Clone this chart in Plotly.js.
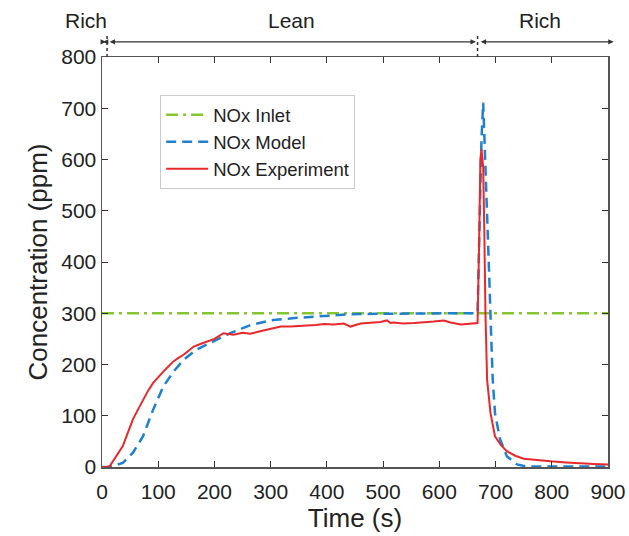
<!DOCTYPE html>
<html>
<head>
<meta charset="utf-8">
<script src="https://cdn.plot.ly/plotly-3.0.1.min.js"></script>
<style>html,body{margin:0;padding:0;background:#fff;}#chart{width:629px;height:536px;}</style>
</head>
<body>
<div id="chart"></div>
<script>
// ---- data ----
var inletTime = [0, 900];
var inletNOx = [300, 300];

var modelTime = [0, 10, 20, 37, 55, 73, 91, 109, 127, 145, 168, 198, 228, 264, 305, 347, 395, 442, 500, 560, 620, 668, 672, 675, 678, 680, 683, 689, 692, 695, 699, 708, 720, 738, 755, 800, 850, 900];
var modelNOx = [0, 0, 2, 8, 28, 60, 112, 157, 186, 209, 229, 245, 261, 277, 287, 291, 295, 298, 299, 300, 300, 300, 480, 640, 711, 640, 559, 364, 262, 170, 105, 54, 21, 5, 1, 1, 1, 1];

var expTime = [0, 10, 14, 25, 37, 46, 55, 64, 73, 82, 91, 100, 109, 118, 127, 136, 145, 154, 163, 175, 186, 200, 216, 234, 250, 264, 285, 305, 318, 335, 353, 365, 380, 395, 412, 430, 442, 460, 480, 495, 507, 513, 519, 535, 555, 575, 590, 608, 620, 638, 655, 668, 671, 673, 675, 678, 680, 682, 685, 691, 699, 710, 720, 735, 750, 775, 798, 825, 851, 875, 900];
var expNOx = [0, 0, 2, 20, 41, 67, 93, 112, 131, 149, 164, 176, 186, 196, 206, 213, 219, 227, 235, 240, 245, 250, 261, 258, 262, 260, 266, 271, 274, 274, 275, 275, 277, 279, 278, 280, 274, 280, 281, 283, 286, 281, 282, 280, 281, 282, 284, 286, 282, 278, 280, 281, 450, 600, 620, 585, 461, 300, 170, 105, 60, 42, 31, 22, 16, 13, 11, 9, 7, 6, 5];

var xTicks = [0, 100, 200, 300, 400, 500, 600, 700, 800, 900];
var yTicks = [0, 100, 200, 300, 400, 500, 600, 700, 800];

// phase boundaries (s)
var phaseLines = [9, 668];
var phaseArrows = [[-1, 7], [11, 665], [671, 910]];
var phaseLabels = ['Rich', 'Lean', 'Rich'];
var phaseLabelX = [-0.032, 0.375, 0.865];   // paper fraction

var FONT = 'Liberation Sans, Arial, sans-serif';

var traces = [
  {x: inletTime, y: inletNOx, name: 'NOx Inlet', mode: 'lines',
   line: {color: '#86c532', width: 2.5, dash: '12px,5px,3px,5px'}},
  {x: modelTime, y: modelNOx, name: 'NOx Model', mode: 'lines',
   line: {color: '#1f80d0', width: 2.5, dash: '10px,6px'}},
  {x: expTime, y: expNOx, name: 'NOx Experiment', mode: 'lines',
   line: {color: '#e8282b', width: 2}}
];

var annotations = [];
for (var i = 0; i < phaseLabels.length; i++) {
  annotations.push({x: phaseLabelX[i], y: 1.09, xref: 'paper', yref: 'paper', text: phaseLabels[i],
    xanchor: 'center', yanchor: 'middle',
    showarrow: false, font: {family: FONT, size: 21, color: '#222'}});
}
for (var j = 0; j < phaseArrows.length; j++) {
  var a = phaseArrows[j];
  annotations.push({x: a[1], y: 1.037, xref: 'x', yref: 'paper', ax: a[0], ay: 0,
    axref: 'x', ayref: 'pixel', text: '', showarrow: true, arrowside: 'end+start',
    arrowhead: 2, arrowsize: 0.9, arrowwidth: 1.2, arrowcolor: '#333'});
}
var shapes = phaseLines.map(function (t) {
  return {type: 'line', xref: 'x', yref: 'paper', x0: t, x1: t, y0: 1.0, y1: 1.058,
    line: {color: '#333', width: 1.5, dash: 'dot'}};
});

var axisCommon = {
  showline: true, linecolor: '#555', linewidth: 1.5, mirror: 'ticks',
  ticks: 'inside', ticklen: 6, tickcolor: '#333', tickwidth: 1,
  showgrid: false, zeroline: false,
  tickfont: {family: FONT, size: 21, color: '#222'}
};

var layout = {
  width: 629, height: 536,
  margin: {l: 102, r: 21, t: 57, b: 69},
  paper_bgcolor: '#fff', plot_bgcolor: '#fff',
  showlegend: true,
  legend: {x: 0.115, y: 0.907, xanchor: 'left', yanchor: 'top',
    bgcolor: '#fff', bordercolor: '#cccccc', borderwidth: 1, itemwidth: 42,
    font: {family: FONT, size: 18.5, color: '#222'}},
  xaxis: Object.assign({}, axisCommon, {range: [0, 900], tickvals: xTicks, ticklabelstandoff: 5,
    title: {text: 'Time (s)', font: {family: FONT, size: 26, color: '#222'}, standoff: 2}}),
  yaxis: Object.assign({}, axisCommon, {range: [0, 800], tickvals: yTicks,
    title: {text: 'Concentration (ppm)', font: {family: FONT, size: 26, color: '#222'}, standoff: 6}}),
  annotations: annotations,
  shapes: shapes
};

Plotly.newPlot('chart', traces, layout, {displayModeBar: false, staticPlot: true});
</script>
</body>
</html>
